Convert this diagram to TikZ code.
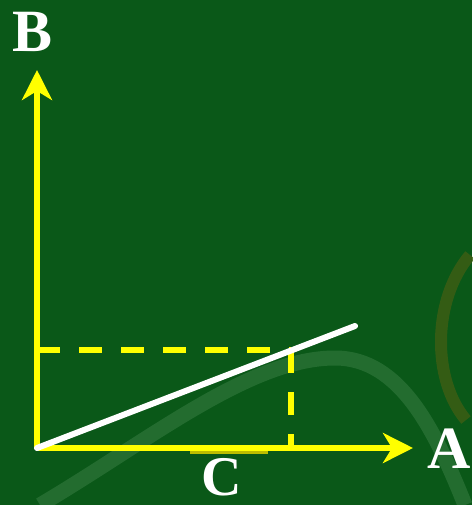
\documentclass[tikz,border=0pt]{standalone}
\usepackage{fontspec}
\setmainfont{Liberation Serif}
\usetikzlibrary{arrows.meta}
\definecolor{board}{HTML}{0A5818}
\definecolor{chalk}{HTML}{2C7438}
\definecolor{rust}{HTML}{3F5E14}
\definecolor{axisyellow}{HTML}{FFFF00}
\definecolor{markyellow}{HTML}{BDBD00}
\tikzset{
  axisline/.style={axisyellow, line width=6pt, -{Stealth[length=30pt,width=30pt,inset=9pt]}},
  guide/.style={axisyellow, line width=6pt, dash pattern=on 23pt off 19pt},
  ray/.style={white, line width=6pt, line cap=round},
  lbl/.style={white, font=\fontsize{60}{60}\selectfont\bfseries, inner sep=0pt}
}
\begin{document}
\begin{tikzpicture}[x=1pt,y=-1pt]
  \fill[board] (0,0) rectangle (472,505);
  \useasboundingbox (0,0) rectangle (472,505);
  % background texture
  \draw[chalk, line width=15pt, opacity=0.75] (40,505) .. controls (150,440) and (250,358) .. (335,358) .. controls (400,358) and (435,430) .. (465,505);
  \draw[rust, line width=12pt, opacity=0.8] (470,255) .. controls (432,300) and (432,380) .. (466,420);
  % coordinates
  \coordinate (O) at (37,448);
  \coordinate (Btip) at (37,70);
  \coordinate (Atip) at (413,448);
  \coordinate (P) at (291,350);
  \coordinate (Py) at (37,350);
  \coordinate (Px) at (291,448);
  \coordinate (R) at (355,326);
  \coordinate (m1) at (190,451);
  \coordinate (m2) at (268,451);
  % labels
  \node[lbl] (B) at (33,32) {B};
  \node[lbl] (A) at (449,449) {A};
  \node[lbl, font=\fontsize{56}{56}\selectfont\bfseries] (C) at (222,477) {C};
  % mark under axis
  \draw[markyellow, line width=5pt] (m1) -- (m2);
  % dashed guides
  \draw[guide] (Py) -- (P);
  \draw[guide] (P) -- (Px);
  % axes
  \draw[axisline] (O) -- (Btip);
  \draw[axisline] (O) -- (Atip);
  % ray
  \draw[ray] (O) -- (R);
\end{tikzpicture}
\end{document}
